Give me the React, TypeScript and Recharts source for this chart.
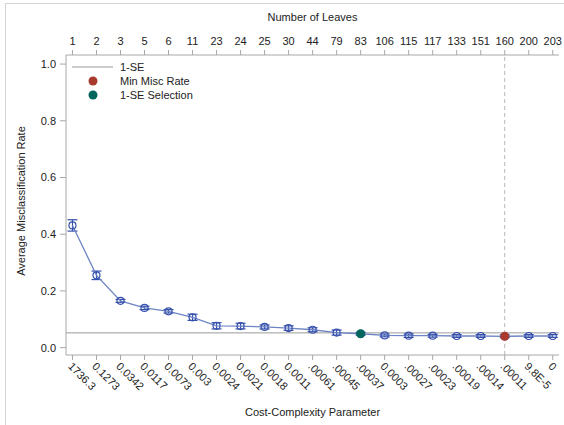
import { ComposedChart, Line, ErrorBar, XAxis, YAxis, ReferenceLine, ReferenceDot, Label } from 'recharts'

const leaves = ['1', '2', '3', '5', '6', '11', '23', '24', '25', '30', '44', '79', '83', '106', '115', '117', '133', '151', '160', '200', '203']
const costComplexity = ['1736.3', '0.1273', '0.0342', '0.0117', '0.0073', '0.003', '0.0024', '0.0021', '0.0018', '0.0011', '.00061', '.00045', '.00037', '0.0003', '.00027', '.00023', '.00019', '.00014', '.00011', '9.8E-5', '0']
const misclass = [0.431, 0.255, 0.165, 0.14, 0.128, 0.107, 0.077, 0.076, 0.073, 0.069, 0.063, 0.053, 0.049, 0.043, 0.042, 0.042, 0.041, 0.041, 0.04, 0.041, 0.041]
const stdErr = [0.02, 0.015, 0.005, 0.006, 0.006, 0.011, 0.011, 0.01, 0.007, 0.008, 0.007, 0.009, 0.005, 0.005, 0.006, 0.005, 0.005, 0.005, 0.005, 0.005, 0.005]
const yTicks = [0, 0.2, 0.4, 0.6, 0.8, 1.0]
const oneSE = 0.052
const minIndex = 18
const selIndex = 12

const data = misclass.map((v, i) => ({ idx: i, rate: v, err: stdErr[i] }))
const xTicks = data.map((d) => d.idx)

const FONT = '"Liberation Sans", Arial, sans-serif'
const FS = 11
const TEXT = '#222'
const AXIS = '#a8a8a8'
const BLUE = '#3550ad'
const LINE = '#6d84c4'
const RED = '#a83a2f'
const GREEN = '#01665e'

const xDomain = [-0.27, 20.26]

function BottomTick({ x, y, payload }: any) {
  const ax = x - 5
  const ay = y + 5
  return (
    <text x={ax} y={ay} transform={`rotate(45, ${ax}, ${ay})`} textAnchor="start" fontSize={FS} fontFamily={FONT} fill={TEXT}>
      {costComplexity[payload.value]}
    </text>
  )
}

function YTitle({ viewBox }: any) {
  const cx = 21
  const cy = viewBox.y + viewBox.height / 2 - 4
  return (
    <text x={cx} y={cy} transform={`rotate(-90, ${cx}, ${cy})`} textAnchor="middle" dominantBaseline="central" fontSize={FS} fontFamily={FONT} fill={TEXT}>
      Average Misclassification Rate
    </text>
  )
}

export default function App() {
  const tickStyle = { fontSize: FS, fontFamily: FONT, fill: TEXT }
  return (
    <div style={{ position: 'absolute', left: 0, top: 0, width: 564, height: 425, background: '#fff' }}>
      <div style={{ position: 'absolute', left: 5, top: 3, width: 570, height: 430, borderLeft: '1px solid #d4d4d4', borderTop: '1px solid #d4d4d4' }} />
      <ComposedChart width={564} height={425} data={data} margin={{ top: 0, right: 5, bottom: 0, left: 0 }}>
        <XAxis
          xAxisId="top"
          orientation="top"
          dataKey="idx"
          type="number"
          domain={xDomain}
          ticks={xTicks}
          allowDataOverflow
          interval={0}
          height={55}
          tickSize={5}
          tickMargin={5}
          tick={tickStyle}
          tickFormatter={(v) => leaves[v]}
          stroke={AXIS}
          tickLine={{ stroke: AXIS }}
        >
          <Label value="Number of Leaves" position="insideTop" offset={13} style={{ fontSize: FS, fontFamily: FONT, fill: TEXT }} />
        </XAxis>
        <XAxis
          dataKey="idx"
          type="number"
          domain={xDomain}
          ticks={xTicks}
          allowDataOverflow
          interval={0}
          height={70}
          tickSize={5}
          tick={<BottomTick />}
          stroke={AXIS}
          tickLine={{ stroke: AXIS }}
        >
          <Label value="Cost-Complexity Parameter" position="insideBottom" offset={9} style={{ fontSize: FS, fontFamily: FONT, fill: TEXT }} />
        </XAxis>
        <YAxis
          type="number"
          domain={[-0.026, 1.032]}
          ticks={yTicks}
          allowDataOverflow
          width={66}
          tickSize={6}
          tickMargin={4}
          tick={tickStyle}
          tickFormatter={(v) => v.toFixed(1)}
          stroke={AXIS}
          tickLine={{ stroke: AXIS }}
        >
          <Label content={<YTitle />} />
        </YAxis>
        <YAxis yAxisId="r" orientation="right" width={0} domain={[-0.026, 1.032]} tick={false} tickLine={false} stroke={AXIS} allowDataOverflow />
        <ReferenceLine y={oneSE} stroke="#9a9a9a" strokeWidth={1} />
        <ReferenceLine x={minIndex} stroke="#b8b8b8" strokeDasharray="4 3" />
        <Line
          dataKey="rate"
          stroke={LINE}
          strokeWidth={1.3}
          dot={{ r: 3.5, stroke: BLUE, strokeWidth: 1.2, fill: 'none' }}
          activeDot={false}
          isAnimationActive={false}
        >
          <ErrorBar dataKey="err" width={5} stroke={BLUE} strokeWidth={1.2} isAnimationActive={false} />
        </Line>
        <ReferenceDot x={selIndex} y={misclass[selIndex]} r={4.5} fill={GREEN} stroke="none" />
        <ReferenceDot x={minIndex} y={misclass[minIndex]} r={4.5} fill={RED} stroke="none" />
      </ComposedChart>
      <div style={{ position: 'absolute', left: 70, top: 60, fontFamily: FONT, fontSize: FS, color: TEXT, lineHeight: '14px' }}>
        <div style={{ display: 'flex', alignItems: 'center' }}>
          <svg width={50} height={14}><line x1={2} y1={7} x2={43} y2={7} stroke="#9a9a9a" strokeWidth={1} /></svg>
          <span>1-SE</span>
        </div>
        <div style={{ display: 'flex', alignItems: 'center' }}>
          <svg width={50} height={14}><circle cx={23} cy={7} r={4.5} fill={RED} /></svg>
          <span>Min Misc Rate</span>
        </div>
        <div style={{ display: 'flex', alignItems: 'center' }}>
          <svg width={50} height={14}><circle cx={23} cy={7} r={4.5} fill={GREEN} /></svg>
          <span>1-SE Selection</span>
        </div>
      </div>
    </div>
  )
}
